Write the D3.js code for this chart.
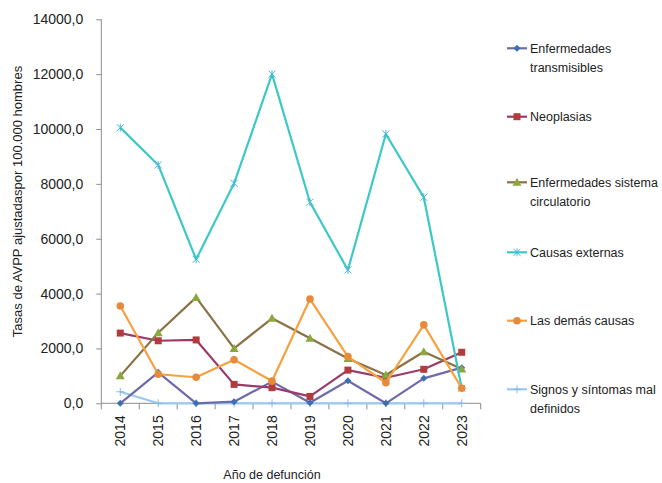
<!DOCTYPE html>
<html><head><meta charset="utf-8">
<script src="https://cdn.jsdelivr.net/npm/d3@7"></script>
<style>body{margin:0;background:#fff}svg{display:block;font-family:"Liberation Sans",Arial,sans-serif}</style>
</head><body><svg id="c" width="662" height="483"></svg>
<script>
const years = ["2014","2015","2016","2017","2018","2019","2020","2021","2022","2023"];
const yTicks = [0,2000,4000,6000,8000,10000,12000,14000];
const transmisibles = [0,1130,0,60,790,20,820,0,910,1300];
const neoplasias = [2560,2280,2310,690,570,250,1210,930,1240,1860];
const circulatorio = [1000,2570,3860,2000,3100,2370,1630,1030,1880,1250];
const externas = [10050,8690,5250,8020,12000,7330,4860,9820,7510,550];
const demas = [3550,1060,950,1590,810,3800,1700,750,2860,550];
const signos = [420,0,0,0,0,0,0,0,0,0];
const seriesNames = ["Enfermedades transmisibles","Neoplasias","Enfermedades sistema circulatorio","Causas externas","Las demás causas","Signos y síntomas mal definidos"];
const legendLines = [["Enfermedades","transmisibles"],["Neoplasias"],["Enfermedades sistema","circulatorio"],["Causas externas"],["Las demás causas"],["Signos y síntomas mal","definidos"]];

const series = [
  {name:seriesNames[0], values:transmisibles, line:"#6f6aa8", fill:"#3e6fb0", shape:"diamond"},
  {name:seriesNames[1], values:neoplasias, line:"#9a3a68", fill:"#b03c3e", shape:"square"},
  {name:seriesNames[2], values:circulatorio, line:"#8b7145", fill:"#8aa83e", shape:"triangle"},
  {name:seriesNames[3], values:externas, line:"#3cc8c8", fill:"#4ab8d0", shape:"star"},
  {name:seriesNames[4], values:demas, line:"#f7a040", fill:"#e88a3c", shape:"circle"},
  {name:seriesNames[5], values:signos, line:"#99c8f2", fill:"#88b8ea", shape:"plus"}
];

const svg = d3.select("#c");
const L=101.3, R=480.7, T=19.3, B=403.3;
const x = d3.scaleBand().domain(years).range([L,R]);
const y = d3.scaleLinear().domain([0,14000]).range([B,T]);
const fmt = v => d3.format(".1f")(v).replace(".",",");

// Y axis
const ya = svg.append("g").attr("transform",`translate(${L},0)`)
  .call(d3.axisLeft(y).tickValues(yTicks).tickSize(5).tickPadding(13).tickFormat(fmt));
ya.select(".domain").attr("stroke","#8c8c8c").attr("d",`M0,${B}V${T}`);
ya.selectAll(".tick line").attr("stroke","#8c8c8c");
ya.selectAll(".tick text").attr("font-size","14px").attr("fill","#222").attr("font-family","Liberation Sans, Arial, sans-serif");

// X axis
const xa = svg.append("g").attr("transform",`translate(0,${B})`);
xa.append("line").attr("x1",L).attr("x2",R).attr("y1",0).attr("y2",0).attr("stroke","#8c8c8c");
const bounds = years.map(d=>x(d)).concat([R]);
xa.selectAll("line.t").data(bounds).enter().append("line").attr("class","t")
  .attr("x1",d=>d).attr("x2",d=>d).attr("y1",0).attr("y2",6).attr("stroke","#8c8c8c");
xa.selectAll("text").data(years).enter().append("text")
  .attr("transform",d=>`translate(${x(d)+x.bandwidth()/2+5},12) rotate(-90)`)
  .attr("text-anchor","end").attr("font-size","14px").attr("fill","#222").text(d=>d);

// Titles
svg.append("text").attr("transform",`translate(21.5,201.5) rotate(-90)`)
  .attr("text-anchor","middle").attr("font-size","13px").attr("fill","#222")
  .text("Tasas de AVPP ajustadaspor 100.000 hombres");
svg.append("text").attr("x",272).attr("y",479).attr("text-anchor","middle")
  .attr("font-size","12.5px").attr("fill","#222").text("Año de defunción");

const cx = d => x(d)+x.bandwidth()/2;
function marker(g, s, px, py){
  if(s.shape==="diamond"){
    g.append("path").attr("d",`M${px},${py-3.5}L${px+3.5},${py}L${px},${py+3.5}L${px-3.5},${py}Z`).attr("fill",s.fill);
  } else if(s.shape==="square"){
    g.append("rect").attr("x",px-3.5).attr("y",py-3.5).attr("width",7).attr("height",7).attr("fill",s.fill);
  } else if(s.shape==="triangle"){
    g.append("path").attr("d",`M${px},${py-4.5}L${px+4.5},${py+3.5}L${px-4.5},${py+3.5}Z`).attr("fill",s.fill);
  } else if(s.shape==="circle"){
    g.append("circle").attr("cx",px).attr("cy",py).attr("r",3.8).attr("fill",s.fill);
  } else if(s.shape==="star"){
    g.append("path").attr("d",`M${px-3.5},${py-3.5}L${px+3.5},${py+3.5}M${px-3.5},${py+3.5}L${px+3.5},${py-3.5}M${px},${py-4}V${py+4}`)
      .attr("stroke",s.fill).attr("stroke-width",1).attr("fill","none");
  } else if(s.shape==="plus"){
    g.append("path").attr("d",`M${px-4},${py}H${px+4}M${px},${py-4}V${py+4}`)
      .attr("stroke",s.fill).attr("stroke-width",1).attr("fill","none");
  }
}

const line = d3.line().x((d,i)=>cx(years[i])).y(d=>y(d));
const order = [5,0,1,2,3,4];
order.forEach(k=>{
  const s = series[k];
  const g = svg.append("g");
  g.append("path").attr("d",line(s.values)).attr("fill","none").attr("stroke",s.line).attr("stroke-width",2.2).attr("stroke-linejoin","round");
  s.values.forEach((v,i)=>marker(g,s,cx(years[i]),y(v)));
});

// Legend
const legY = [48.3,116.7,182.3,252.3,320.7,389.3];
series.forEach((s,k)=>{
  const g = svg.append("g");
  g.append("line").attr("x1",507).attr("x2",527).attr("y1",legY[k]).attr("y2",legY[k]).attr("stroke",s.line).attr("stroke-width",2.2);
  marker(g,s,517,legY[k]);
  legendLines[k].forEach((t,j)=>{
    g.append("text").attr("x",530).attr("y",legY[k]+4.5+j*19).attr("font-size","12.5px").attr("fill","#222").text(t);
  });
});
</script></body></html>
